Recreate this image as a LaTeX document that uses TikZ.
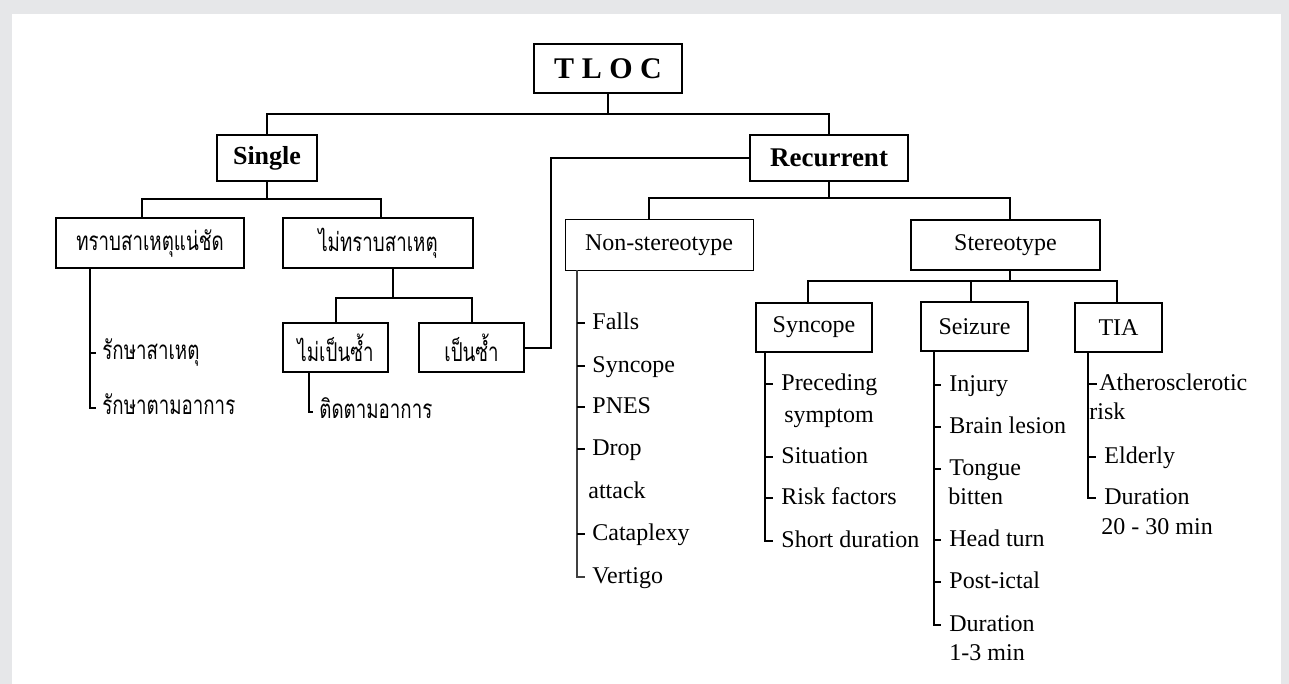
\documentclass[tikz,border=0pt]{standalone}
\usepackage{fontspec}
\setmainfont{Liberation Serif}
\newfontfamily\thaifont[Script=Thai,FakeStretch=0.72]{Loma}
\definecolor{pagegray}{HTML}{E6E7E9}
\tikzset{
  box/.style={draw, line width=1pt, inner sep=0pt, font=\fontsize{12}{14}\selectfont},
  thaibox/.style={box, font=\thaifont\fontsize{13}{15}\selectfont},
  item/.style={anchor=west, inner sep=0pt, text height=1.4ex, text depth=0pt, font=\fontsize{12}{14}\selectfont},
  thaiitem/.style={item, font=\thaifont\fontsize{13}{15}\selectfont},
  link/.style={line width=1pt},
  trunk/.style={line width=0.8pt},
}
\begin{document}
\begin{tikzpicture}[x=0.5pt,y=-0.5pt]
\fill[pagegray] (0,0) rectangle (1289,684);
\fill[white] (12,14) rectangle (1281,684);
\useasboundingbox (0,0) rectangle (1289,684);

\node[box, minimum width=74pt, minimum height=24.5pt, font=\fontsize{15}{17}\bfseries] (tloc) at (608,68.5) {T L O C};
\node[box, minimum width=50pt, minimum height=23pt, font=\fontsize{13}{15}\bfseries] (single) at (267,158) {Single};
\node[box, minimum width=79pt, minimum height=23pt, font=\fontsize{13.5}{15}\bfseries] (recurrent) at (829,158) {Recurrent};

\node[thaibox, minimum width=94pt, minimum height=25pt] (known) at (150,243) {ทราบสาเหตุแน่ชัด};
\node[thaibox, minimum width=95pt, minimum height=25pt] (unknown) at (378,243) {ไม่ทราบสาเหตุ};
\node[thaibox, minimum width=52.5pt, minimum height=24.5pt] (nonrep) at (335.5,347.5) {ไม่เป็นซ้ำ};
\node[thaibox, minimum width=52.5pt, minimum height=24.5pt] (rep) at (471.5,347.5) {เป็นซ้ำ};

\node[box, line width=0.5pt, minimum width=94pt, minimum height=25pt] (nonst) at (659,245) {Non-stereotype};
\node[box, minimum width=94.5pt, minimum height=25pt] (stereo) at (1005.5,245) {Stereotype};
\node[box, minimum width=58pt, minimum height=24.5pt] (syncope) at (814,327.5) {Syncope};
\node[box, minimum width=53.5pt, minimum height=24.5pt] (seizure) at (974.5,326.5) {Seizure};
\node[box, minimum width=43.5pt, minimum height=24.5pt] (tia) at (1118.5,327.5) {TIA};

\draw[link] (tloc.south) -- (tloc.south |- 0,114) -| (single.north);
\draw[link] (tloc.south |- 0,114) -| (recurrent.north);
\draw[link] (single.south) -- (single.south |- 0,199) -| ([xshift=-4pt]known.north);
\draw[link] (single.south |- 0,199) -| ([xshift=1.5pt]unknown.north);
\draw[link] ([xshift=7.5pt]unknown.south) -- ([xshift=7.5pt]unknown.south |- 0,298) -| (nonrep.north);
\draw[link] ([xshift=7.5pt]unknown.south |- 0,298) -| (rep.north);
\draw[link] (rep.east) -- ++(26,0) |- (recurrent.west);
\draw[link] (recurrent.south) -- (recurrent.south |- 0,198) -| ([xshift=-5pt]nonst.north);
\draw[link] (recurrent.south |- 0,198) -| ([xshift=2pt]stereo.north);
\draw[link] ([xshift=2pt]stereo.south) -- ([xshift=2pt]stereo.south |- 0,281) -| ([xshift=-3pt]syncope.north);
\draw[link] ([xshift=2pt]stereo.south |- 0,281) -| ([xshift=-2pt]seizure.north);
\draw[link] ([xshift=2pt]stereo.south |- 0,281) -| ([xshift=-1pt]tia.north);

\node[thaiitem] (k1) at (102,353) {รักษาสาเหตุ};
\node[thaiitem] (k2) at (102,408) {รักษาตามอาการ};
\coordinate (ktop) at (90,268);
\draw[trunk] (ktop) |- ([xshift=-3pt]k2.west);
\draw[trunk] (k1.west -| ktop) -- ([xshift=-3pt]k1.west);

\node[thaiitem] (n1) at (319,412) {ติดตามอาการ};
\coordinate (ntop) at (309,372);
\draw[trunk] (ntop) |- ([xshift=-3pt]n1.west);

\node[item] (ns1) at (592,323) {Falls};
\node[item] (ns2) at (592,366) {Syncope};
\node[item] (ns3) at (592,407) {PNES};
\node[item] (ns4) at (592,449) {Drop};
\node[item] (ns5) at (588,492) {attack};
\node[item] (ns6) at (592,534) {Cataplexy};
\node[item] (ns7) at (592,577) {Vertigo};
\coordinate (nstop) at (577,270);
\draw[line width=0.6pt, black!75] (nstop) |- ([xshift=-3.5pt]ns7.west);
\foreach \i in {1,2,3,4,6}
  \draw[trunk] (ns\i.west -| nstop) -- ([xshift=-3.5pt]ns\i.west);

\node[item] (sy1) at (781,384) {Preceding};
\node[item] (sy2) at (784,416) {symptom};
\node[item] (sy3) at (781,457) {Situation};
\node[item] (sy4) at (781,498) {Risk factors};
\node[item] (sy5) at (781,541) {Short duration};
\coordinate (sytop) at (765,352);
\draw[link] (sytop) |- ([xshift=-4pt]sy5.west);
\foreach \i in {1,3,4}
  \draw[trunk] (sy\i.west -| sytop) -- ([xshift=-4pt]sy\i.west);

\node[item] (se1) at (949,385) {Injury};
\node[item] (se2) at (949,427) {Brain lesion};
\node[item] (se3) at (949,469) {Tongue};
\node[item] (se4) at (948,498) {bitten};
\node[item] (se5) at (949,540) {Head turn};
\node[item] (se6) at (949,582) {Post-ictal};
\node[item] (se7) at (949,625) {Duration};
\node[item] (se8) at (949,654) {1-3 min};
\coordinate (setop) at (934,351);
\draw[trunk] (setop) |- ([xshift=-4pt]se7.west);
\foreach \i in {1,2,3,5,6}
  \draw[trunk] (se\i.west -| setop) -- ([xshift=-4pt]se\i.west);

\node[item] (ti1) at (1099,384) {Atherosclerotic};
\node[item] (ti2) at (1089,413) {risk};
\node[item] (ti3) at (1104,457) {Elderly};
\node[item] (ti4) at (1104,498) {Duration};
\node[item] (ti5) at (1101,528) {20 - 30 min};
\coordinate (titop) at (1088,352);
\draw[link] (titop) |- ([xshift=-4pt]ti4.west);
\draw[trunk] (ti1.west -| titop) -- ([xshift=-1pt]ti1.west);
\draw[trunk] (ti3.west -| titop) -- ([xshift=-4pt]ti3.west);
\end{tikzpicture}
\end{document}
